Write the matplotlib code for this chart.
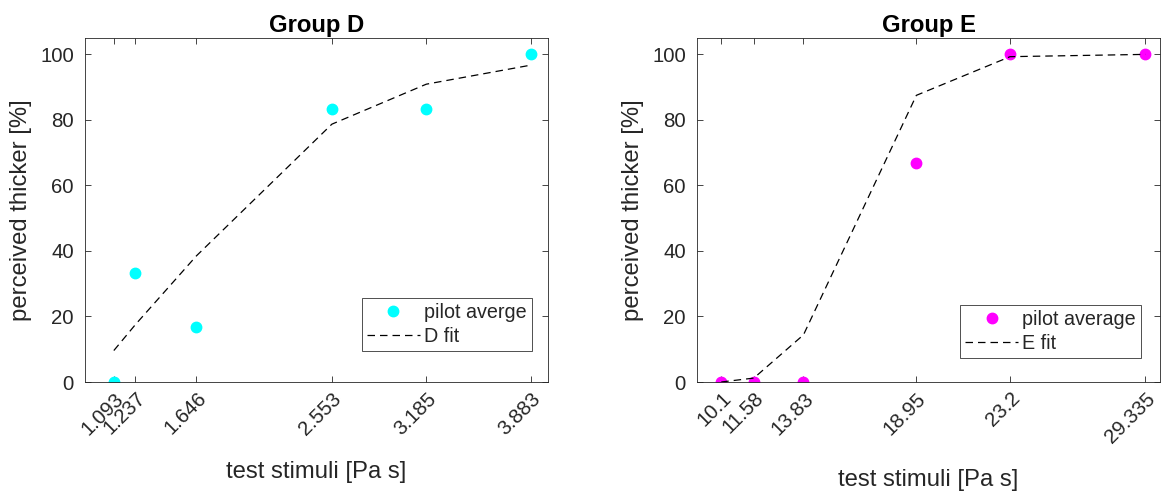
import matplotlib
matplotlib.use("Agg")
import matplotlib.pyplot as plt

plt.rcParams['font.family'] = ['Liberation Sans', 'DejaVu Sans']

# Group D
d_x = [1.093, 1.237, 1.646, 2.553, 3.185, 3.883]
d_avg = [0, 33.3, 16.7, 83.3, 83.3, 100]
d_fit = [9.6, 17.5, 38.5, 78.7, 90.9, 96.7]
d_ticks = ['1.093', '1.237', '1.646', '2.553', '3.185', '3.883']

# Group E
e_x = [10.1, 11.58, 13.83, 18.95, 23.2, 29.335]
e_avg = [0, 0, 0, 66.7, 100, 100]
e_fit = [0.0, 1.2, 14.4, 87.5, 99.3, 100]
e_ticks = ['10.1', '11.58', '13.83', '18.95', '23.2', '29.335']

txt = (0.15, 0.15, 0.15)

W, H = 1162, 493
fig = plt.figure(figsize=(W / 100, H / 100), dpi=100)
# axes boxes in pixels: left 85 / 697, top 38, width 463, height 344
ax1 = fig.add_axes((85 / W, (H - 382) / H, 463 / W, 344 / H))
ax2 = fig.add_axes((697 / W, (H - 382) / H, 463 / W, 344 / H))

panels = [
    (ax1, d_x, d_avg, d_fit, d_ticks, (0.9, 4.0), 'Group D', 'pilot averge', 'D fit', 'cyan', (0.598, 0.244)),
    (ax2, e_x, e_avg, e_fit, e_ticks, (9, 30), 'Group E', 'pilot average', 'E fit', 'magenta', (0.568, 0.224)),
]

for ax, x, avg, fit, ticks, xlim, title, lab1, lab2, col, lpos in panels:
    ax.plot(x, avg, 'o', color=col, markersize=7.5, label=lab1)
    ax.plot(x, fit, '--', color='black', linewidth=0.9, dashes=(6, 4), label=lab2)
    ax.set_xlim(*xlim)
    ax.set_ylim(0, 105)
    ax.set_xticks(x)
    ax.set_xticklabels(ticks, rotation=45, ha='right', rotation_mode='anchor')
    ax.set_yticks([0, 20, 40, 60, 80, 100])
    ax.tick_params(direction='in', top=True, right=True, length=4, width=0.6,
                   labelsize=14.7, colors=txt, pad=5)
    ax.tick_params(axis='y', pad=8)
    for s in ax.spines.values():
        s.set_color(txt)
        s.set_linewidth(0.6)
    ax.set_title(title, fontsize=17.2, fontweight='bold', color='black', pad=4)
    ax.set_xlabel('test stimuli [Pa s]', fontsize=17.2, color=txt, labelpad=16)
    ax.set_ylabel('perceived thicker [%]', fontsize=17.2, color=txt, labelpad=6)
    leg = ax.legend(loc='upper left', bbox_to_anchor=lpos, fontsize=14.2, frameon=True,
                    fancybox=False, edgecolor='black', handlelength=2.7,
                    borderaxespad=0, borderpad=0.25, labelspacing=0.25, handletextpad=0.2)
    leg.get_frame().set_linewidth(0.6)
    for t in leg.get_texts():
        t.set_color(txt)

fig.savefig('out.png', dpi=100)
